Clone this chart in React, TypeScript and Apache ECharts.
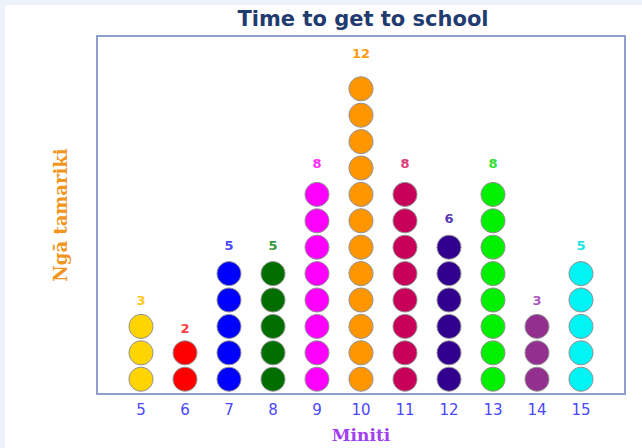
import React, { useEffect, useRef } from "react";
import * as echarts from "echarts";

const minutes = [5, 6, 7, 8, 9, 10, 11, 12, 13, 14, 15];
const counts = [3, 2, 5, 5, 8, 12, 8, 6, 8, 3, 5];
const dotColors = ["#ffd400", "#ff0000", "#0000ff", "#006f00", "#ff00ff", "#ff9600", "#c8005a", "#32008f", "#00f000", "#922f8f", "#00f4f4"];
const labelColors = ["#ffc820", "#ff4040", "#4a4aff", "#3a9a3a", "#ff30ff", "#ff9a10", "#e03a78", "#5a3ab0", "#30e030", "#b058c0", "#20e4e4"];

export default function App() {
  const ref = useRef<HTMLDivElement>(null);
  useEffect(() => {
    if (!ref.current) return;
    const chart = echarts.init(ref.current, null, { renderer: "svg" });
    const data: any[] = [];
    minutes.forEach((m, i) => {
      for (let k = 1; k <= counts[i]; k++) {
        data.push({
          value: [m, k],
          itemStyle: { color: dotColors[i] },
          label: {
            show: k === counts[i],
            formatter: String(counts[i]),
            color: labelColors[i],
            distance: 8 + (counts[i] - 4) * 1.1,
          },
        });
      }
    });
    chart.setOption({
      animation: false,
      backgroundColor: "#edf2fa",
      title: {
        text: "Time to get to school",
        left: 358,
        textAlign: "center",
        top: 3,
        textStyle: { color: "#1f3b70", fontSize: 21, fontWeight: "bold", fontFamily: "DejaVu Sans" },
      },
      graphic: [
        { type: "rect", shape: { x: 5, y: 5, width: 640, height: 450 }, style: { fill: "#ffffff" }, z: -10 },
      ],
      grid: { left: 97, top: 36, width: 528, height: 360, show: true, borderColor: "#8d9fca", borderWidth: 2, backgroundColor: "#ffffff" },
      xAxis: {
        type: "value",
        min: 4,
        max: 16,
        interval: 1,
        axisLine: { show: false },
        axisTick: { show: false },
        splitLine: { show: false },
        axisLabel: {
          showMinLabel: false,
          showMaxLabel: false,
          color: "#4848ff",
          fontSize: 15,
          fontFamily: "DejaVu Sans",
          margin: 8,
        },
        name: "Miniti",
        nameLocation: "middle",
        nameGap: 32,
        nameTextStyle: { color: "#a040f0", fontSize: 17, fontWeight: "bold", fontFamily: "DejaVu Serif" },
      },
      yAxis: {
        type: "value",
        min: 0.44,
        max: 14,
        axisLine: { show: false },
        axisTick: { show: false },
        splitLine: { show: false },
        axisLabel: { show: false },
        name: "Ngā tamariki",
        nameLocation: "middle",
        nameRotate: 90,
        nameGap: 28,
        nameTextStyle: { color: "#f0961e", fontSize: 18, fontWeight: "bold", fontFamily: "DejaVu Serif" },
      },
      series: [
        {
          type: "scatter",
          symbol: "circle",
          symbolSize: 24,
          itemStyle: { borderColor: "#909090", borderWidth: 1, opacity: 1 },
          label: { position: "top", fontSize: 13, fontWeight: "bold", fontFamily: "DejaVu Sans" },
          data,
        },
      ],
    });
    return () => chart.dispose();
  }, []);
  return (
    <div
      ref={ref}
      style={{ position: "fixed", left: 0, top: 0, width: 642, height: 448 }}
    />
  );
}
